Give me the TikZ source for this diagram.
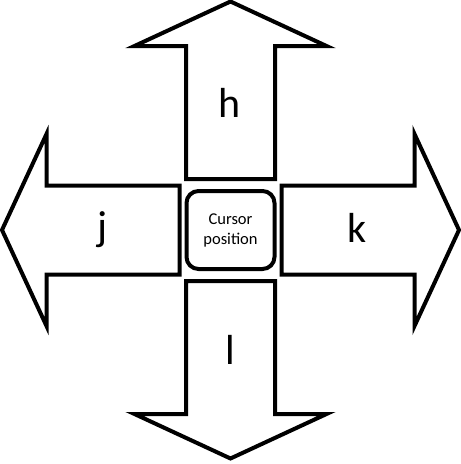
\documentclass[tikz,border=0pt]{standalone}
\usepackage{fontspec}
\setmainfont{Carlito}
\begin{document}
\begin{tikzpicture}[x=1pt,y=-1pt,
  arrowshape/.style={draw=black,line width=4pt,fill=white,line join=miter},
  keylabel/.style={font=\fontsize{42}{42}\selectfont,inner sep=0pt},
  centerbox/.style={draw=black,line width=4pt,rounded corners=12pt,fill=white,minimum width=88pt,minimum height=78pt,inner sep=0pt,align=center,font=\fontsize{16.5}{20}\selectfont}]
\useasboundingbox (0,0) rectangle (461,464);
\coordinate (c) at (230.5,230);
\foreach \ang in {0,90,180,270}{
  \begin{scope}[shift={(c)},rotate=\ang]
    \draw[arrowshape] (-44.5,-51) -- (-44.5,-184) -- (-96,-184) -- (0,-228.5) -- (96,-184) -- (44.5,-184) -- (44.5,-51) -- cycle;
  \end{scope}
}
\node[centerbox] (cur) at (c) {Cursor\\position};
\node[keylabel] (h) at (230,103) {h};
\node[keylabel] (j) at (103,230) {j};
\node[keylabel] (k) at (357,228) {k};
\node[keylabel] (l) at (230,350) {l};
\end{tikzpicture}
\end{document}
